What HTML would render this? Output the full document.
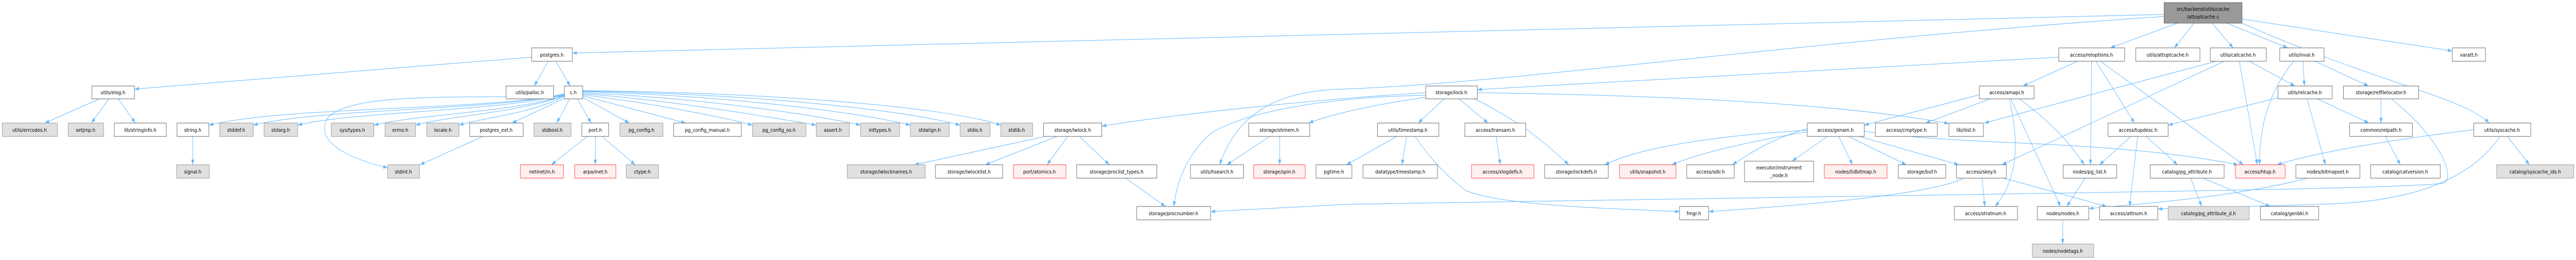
<!DOCTYPE html>
<html><head><meta charset="utf-8"><style>
html,body{margin:0;padding:0;background:#fff;width:100%;height:100%;overflow:hidden;}
svg{display:block;width:100vw;height:100vh;}
text{font-family:"DejaVu Sans","Liberation Sans",sans-serif;font-size:10px;fill:#000;text-anchor:middle;}
.w{fill:#fff;stroke:#666;stroke-width:1;}
.g{fill:#e0e0e0;stroke:#999;stroke-width:1;}
.r{fill:#fff0f0;stroke:#f44;stroke-width:1;}
.t{fill:#999;stroke:#666;stroke-width:1;}
path.e{fill:none;stroke:#63b8ff;stroke-width:1;}
</style></head><body>
<svg viewBox="0 0 5747 505" preserveAspectRatio="none" xmlns="http://www.w3.org/2000/svg">
<defs><marker id="a" markerUnits="userSpaceOnUse" markerWidth="10" markerHeight="8" refX="10" refY="3.5" orient="auto"><path d="M0,0 L10,3.5 L0,7 z" fill="#63b8ff"/></marker></defs>
<g marker-end="url(#a)">
<path class="e" d="M4828,28 L1277,103"/>
<path class="e" d="M4858,45 L4708,93"/>
<path class="e" d="M4895,45 L4851,93"/>
<path class="e" d="M4935,45 L4982,93"/>
<path class="e" d="M4968,45 L5104,93"/>
<path class="e" d="M5002,37 L5471,99"/>
<path class="e" d="M5002,45 C5300,160 5500,190 5553,239"/>
<path class="e" d="M4828,32 C4000,80 3400,160 3000,173 C2850,175 2760,220 2721,320"/>
<path class="e" d="M1223,119 L1192,167"/>
<path class="e" d="M1240,119 L1272,167"/>
<path class="e" d="M1186,111 L300,173"/>
<path class="e" d="M222,192 L100,239"/>
<path class="e" d="M243,192 L204,239"/>
<path class="e" d="M264,192 L302,239"/>
<path class="e" d="M1259,182 C1100,215 650,205 466,243"/>
<path class="e" d="M1259,183 C1100,215 720,210 565,243"/>
<path class="e" d="M1259,184 C1100,218 800,215 664,243"/>
<path class="e" d="M1259,185 C1150,218 950,220 834,243"/>
<path class="e" d="M1259,186 C1150,220 1000,225 927,243"/>
<path class="e" d="M1259,187 C1180,222 1080,228 1024,243"/>
<path class="e" d="M1259,187 C1000,190 780,180 730,230 C700,280 790,310 865,326"/>
<path class="e" d="M1262,190 L1142,239"/>
<path class="e" d="M1271,192 L1242,239"/>
<path class="e" d="M1288,192 L1319,239"/>
<path class="e" d="M1300,189 L1404,239"/>
<path class="e" d="M1300,186 L1530,239"/>
<path class="e" d="M1300,184 C1450,200 1600,225 1679,243"/>
<path class="e" d="M1300,182 C1500,195 1700,225 1821,243"/>
<path class="e" d="M1300,180 C1550,190 1800,220 1920,243"/>
<path class="e" d="M1300,178 C1600,185 1900,215 2031,243"/>
<path class="e" d="M1300,177 C1650,182 2000,210 2142,243"/>
<path class="e" d="M1300,176 C1700,180 2100,205 2233,243"/>
<path class="e" d="M1077,265 L937,320"/>
<path class="e" d="M430,265 L430,320"/>
<path class="e" d="M1310,265 L1230,320"/>
<path class="e" d="M1328,265 L1328,320"/>
<path class="e" d="M1343,265 L1417,320"/>
<path class="e" d="M3181,180 C2900,195 2600,225 2458,245"/>
<path class="e" d="M3181,185 C2900,190 2750,230 2700,260 C2650,300 2625,350 2619,401"/>
<path class="e" d="M3181,189 C3050,205 2960,225 2920,239"/>
<path class="e" d="M3222,192 L3164,239"/>
<path class="e" d="M3255,192 L3320,239"/>
<path class="e" d="M3290,192 C3400,240 3450,280 3500,320"/>
<path class="e" d="M3296,180 C3700,185 4100,200 4348,240"/>
<path class="e" d="M2332,265 L2040,320"/>
<path class="e" d="M2358,265 L2198,320"/>
<path class="e" d="M2382,265 L2336,320"/>
<path class="e" d="M2408,265 L2475,320"/>
<path class="e" d="M2511,346 L2600,401"/>
<path class="e" d="M2833,265 L2737,320"/>
<path class="e" d="M2855,265 L2855,320"/>
<path class="e" d="M3116,265 L3004,320"/>
<path class="e" d="M3138,265 L3128,320"/>
<path class="e" d="M3157,265 C3200,320 3240,350 3270,370 C3350,400 3600,405 3747,411"/>
<path class="e" d="M3338,265 L3347,320"/>
<path class="e" d="M4593,111 L3296,174"/>
<path class="e" d="M4635,119 L4513,167"/>
<path class="e" d="M4666,119 L4664,320"/>
<path class="e" d="M4676,119 L4762,239"/>
<path class="e" d="M4686,119 L5005,320"/>
<path class="e" d="M4416,184 L4159,243"/>
<path class="e" d="M4440,192 L4296,239"/>
<path class="e" d="M4505,192 C4580,240 4620,280 4650,320"/>
<path class="e" d="M4483,192 C4500,260 4510,340 4451,401"/>
<path class="e" d="M4486,192 L4597,401"/>
<path class="e" d="M4032,250 C3950,270 3900,300 3865,320"/>
<path class="e" d="M4032,256 C3900,275 3780,300 3730,320"/>
<path class="e" d="M4032,253 C3800,265 3650,290 3580,320"/>
<path class="e" d="M4077,265 L3998,313"/>
<path class="e" d="M4102,265 L4133,320"/>
<path class="e" d="M4124,265 L4253,320"/>
<path class="e" d="M4148,265 L4370,320"/>
<path class="e" d="M4159,255 C4400,285 4700,270 4993,320"/>
<path class="e" d="M4754,265 L4684,320"/>
<path class="e" d="M4769,265 L4751,401"/>
<path class="e" d="M4788,265 L4858,320"/>
<path class="e" d="M4422,346 L4428,401"/>
<path class="e" d="M4470,346 L4700,401"/>
<path class="e" d="M4382,346 C4300,380 4000,400 3812,411"/>
<path class="e" d="M4652,346 L4611,401"/>
<path class="e" d="M4887,346 L4912,401"/>
<path class="e" d="M4915,346 L5065,401"/>
<path class="e" d="M4602,427 L4602,474"/>
<path class="e" d="M4944,119 L4427,239"/>
<path class="e" d="M4962,119 L4466,320"/>
<path class="e" d="M4996,119 L5036,320"/>
<path class="e" d="M5018,119 L5120,167"/>
<path class="e" d="M5117,119 C5060,180 5040,250 5041,320"/>
<path class="e" d="M5138,119 L5141,167"/>
<path class="e" d="M5165,119 L5284,167"/>
<path class="e" d="M5082,190 L4837,243"/>
<path class="e" d="M5147,192 L5188,320"/>
<path class="e" d="M5170,192 L5285,239"/>
<path class="e" d="M5312,192 L5312,239"/>
<path class="e" d="M5335,192 C5420,250 5480,330 5455,355 C5400,368 4500,375 3000,397 L2701,411"/>
<path class="e" d="M5322,265 L5355,320"/>
<path class="e" d="M5519,252 C5300,275 5150,300 5080,320"/>
<path class="e" d="M5594,265 L5643,320"/>
<path class="e" d="M5577,265 C5520,340 5400,390 5200,396 L4814,406"/>
<path class="e" d="M5148,346 C5000,380 4800,395 4660,405"/>
</g>

<rect class="t" x="4828" y="5" width="174" height="40"/><text x="4915" y="21">src/backend/utils/cache</text><text x="4915" y="36">/attoptcache.c</text>

<rect class="w" x="1186" y="93" width="91" height="26"/><text x="1231" y="110">postgres.h</text>
<rect class="w" x="4593" y="93" width="147" height="26"/><text x="4666" y="110">access/reloptions.h</text>
<rect class="w" x="4765" y="93" width="143" height="26"/><text x="4836" y="110">utils/attoptcache.h</text>
<rect class="w" x="4931" y="93" width="125" height="26"/><text x="4993" y="110">utils/catcache.h</text>
<rect class="w" x="5086" y="93" width="99" height="26"/><text x="5135" y="110">utils/inval.h</text>
<rect class="w" x="5471" y="93" width="74" height="26"/><text x="5508" y="110">varatt.h</text>

<rect class="w" x="205" y="167" width="95" height="25"/><text x="252" y="183">utils/elog.h</text>
<rect class="w" x="1129" y="167" width="106" height="25"/><text x="1182" y="183">utils/palloc.h</text>
<rect class="w" x="1259" y="167" width="41" height="25"/><text x="1279" y="183">c.h</text>
<rect class="w" x="3181" y="167" width="115" height="25"/><text x="3238" y="183">storage/lock.h</text>
<rect class="w" x="4416" y="167" width="122" height="25"/><text x="4477" y="183">access/amapi.h</text>
<rect class="w" x="5082" y="167" width="121" height="25"/><text x="5142" y="183">utils/relcache.h</text>
<rect class="w" x="5228" y="167" width="168" height="25"/><text x="5312" y="183">storage/relfilelocator.h</text>

<rect class="g" x="5" y="239" width="123" height="26"/><text x="66" y="256">utils/errcodes.h</text>
<rect class="g" x="152" y="239" width="79" height="26"/><text x="191" y="256">setjmp.h</text>
<rect class="w" x="255" y="239" width="116" height="26"/><text x="313" y="256">lib/stringinfo.h</text>
<rect class="w" x="395" y="239" width="71" height="26"/><text x="430" y="256">string.h</text>
<rect class="g" x="490" y="239" width="75" height="26"/><text x="527" y="256">stddef.h</text>
<rect class="g" x="589" y="239" width="75" height="26"/><text x="626" y="256">stdarg.h</text>
<rect class="g" x="739" y="239" width="95" height="26"/><text x="786" y="256">sys/types.h</text>
<rect class="g" x="859" y="239" width="68" height="26"/><text x="893" y="256">errno.h</text>
<rect class="g" x="952" y="239" width="72" height="26"/><text x="988" y="256">locale.h</text>
<rect class="w" x="1048" y="239" width="119" height="26"/><text x="1107" y="256">postgres_ext.h</text>
<rect class="g" x="1191" y="239" width="83" height="26"/><text x="1232" y="256">stdbool.h</text>
<rect class="w" x="1298" y="239" width="60" height="26"/><text x="1328" y="256">port.h</text>
<rect class="g" x="1383" y="239" width="96" height="26"/><text x="1431" y="256">pg_config.h</text>
<rect class="w" x="1503" y="239" width="151" height="26"/><text x="1578" y="256">pg_config_manual.h</text>
<rect class="g" x="1679" y="239" width="119" height="26"/><text x="1738" y="256">pg_config_os.h</text>
<rect class="g" x="1821" y="239" width="74" height="26"/><text x="1858" y="256">assert.h</text>
<rect class="g" x="1920" y="239" width="87" height="26"/><text x="1963" y="256">inttypes.h</text>
<rect class="g" x="2031" y="239" width="87" height="26"/><text x="2074" y="256">stdalign.h</text>
<rect class="g" x="2142" y="239" width="67" height="26"/><text x="2175" y="256">stdio.h</text>
<rect class="g" x="2233" y="239" width="71" height="26"/><text x="2268" y="256">stdlib.h</text>
<rect class="w" x="2328" y="239" width="130" height="26"/><text x="2393" y="256">storage/lwlock.h</text>
<rect class="w" x="2786" y="239" width="136" height="26"/><text x="2854" y="256">storage/shmem.h</text>
<rect class="w" x="3073" y="239" width="137" height="26"/><text x="3141" y="256">utils/timestamp.h</text>
<rect class="w" x="3268" y="239" width="136" height="26"/><text x="3336" y="256">access/transam.h</text>
<rect class="w" x="4032" y="239" width="127" height="26"/><text x="4095" y="256">access/genam.h</text>
<rect class="w" x="4184" y="239" width="138" height="26"/><text x="4253" y="256">access/cmptype.h</text>
<rect class="w" x="4348" y="239" width="77" height="26"/><text x="4386" y="256">lib/ilist.h</text>
<rect class="w" x="4703" y="239" width="134" height="26"/><text x="4770" y="256">access/tupdesc.h</text>
<rect class="w" x="5242" y="239" width="140" height="26"/><text x="5312" y="256">common/relpath.h</text>
<rect class="w" x="5519" y="239" width="127" height="26"/><text x="5582" y="256">utils/syscache.h</text>

<rect class="g" x="394" y="320" width="73" height="26"/><text x="430" y="337">signal.h</text>
<rect class="g" x="865" y="320" width="71" height="26"/><text x="900" y="337">stdint.h</text>
<rect class="r" x="1161" y="320" width="96" height="26"/><text x="1209" y="337">netinet/in.h</text>
<rect class="r" x="1282" y="320" width="92" height="26"/><text x="1328" y="337">arpa/inet.h</text>
<rect class="g" x="1397" y="320" width="72" height="26"/><text x="1433" y="337">ctype.h</text>
<rect class="g" x="1890" y="320" width="174" height="26"/><text x="1977" y="337">storage/lwlocknames.h</text>
<rect class="w" x="2087" y="320" width="150" height="26"/><text x="2162" y="337">storage/lwlocklist.h</text>
<rect class="r" x="2261" y="320" width="117" height="26"/><text x="2319" y="337">port/atomics.h</text>
<rect class="w" x="2402" y="320" width="179" height="26"/><text x="2491" y="337">storage/proclist_types.h</text>
<rect class="w" x="2656" y="320" width="118" height="26"/><text x="2715" y="337">utils/hsearch.h</text>
<rect class="r" x="2797" y="320" width="115" height="26"/><text x="2854" y="337">storage/spin.h</text>
<rect class="w" x="2936" y="320" width="80" height="26"/><text x="2976" y="337">pgtime.h</text>
<rect class="w" x="3041" y="320" width="166" height="26"/><text x="3124" y="337">datatype/timestamp.h</text>
<rect class="r" x="3283" y="320" width="139" height="26"/><text x="3352" y="337">access/xlogdefs.h</text>
<rect class="w" x="3446" y="320" width="142" height="26"/><text x="3517" y="337">storage/lockdefs.h</text>
<rect class="r" x="3613" y="320" width="126" height="26"/><text x="3676" y="337">utils/snapshot.h</text>
<rect class="w" x="3763" y="320" width="106" height="26"/><text x="3816" y="337">access/sdir.h</text>
<rect class="w" x="3892" y="313" width="154" height="40"/><text x="3969" y="329">executor/instrument</text><text x="3969" y="344">_node.h</text>
<rect class="r" x="4070" y="320" width="140" height="26"/><text x="4140" y="337">nodes/tidbitmap.h</text>
<rect class="w" x="4235" y="320" width="106" height="26"/><text x="4288" y="337">storage/buf.h</text>
<rect class="w" x="4365" y="320" width="111" height="26"/><text x="4420" y="337">access/skey.h</text>
<rect class="w" x="4603" y="320" width="119" height="26"/><text x="4662" y="337">nodes/pg_list.h</text>
<rect class="w" x="4797" y="320" width="165" height="26"/><text x="4879" y="337">catalog/pg_attribute.h</text>
<rect class="r" x="4987" y="320" width="111" height="26"/><text x="5042" y="337">access/htup.h</text>
<rect class="w" x="5122" y="320" width="143" height="26"/><text x="5193" y="337">nodes/bitmapset.h</text>
<rect class="w" x="5289" y="320" width="155" height="26"/><text x="5366" y="337">catalog/catversion.h</text>
<rect class="g" x="5570" y="320" width="172" height="26"/><text x="5656" y="337">catalog/syscache_ids.h</text>

<rect class="w" x="2536" y="401" width="165" height="26"/><text x="2618" y="418">storage/procnumber.h</text>
<rect class="w" x="3747" y="401" width="65" height="26"/><text x="3779" y="418">fmgr.h</text>
<rect class="w" x="4360" y="401" width="141" height="26"/><text x="4430" y="418">access/stratnum.h</text>
<rect class="w" x="4545" y="401" width="115" height="26"/><text x="4602" y="418">nodes/nodes.h</text>
<rect class="w" x="4684" y="401" width="130" height="26"/><text x="4749" y="418">access/attnum.h</text>
<rect class="g" x="4837" y="401" width="181" height="26"/><text x="4927" y="418">catalog/pg_attribute_d.h</text>
<rect class="w" x="5043" y="401" width="130" height="26"/><text x="5108" y="418">catalog/genbki.h</text>

<rect class="g" x="4534" y="474" width="137" height="26"/><text x="4602" y="491">nodes/nodetags.h</text>
</svg>
</body></html>
